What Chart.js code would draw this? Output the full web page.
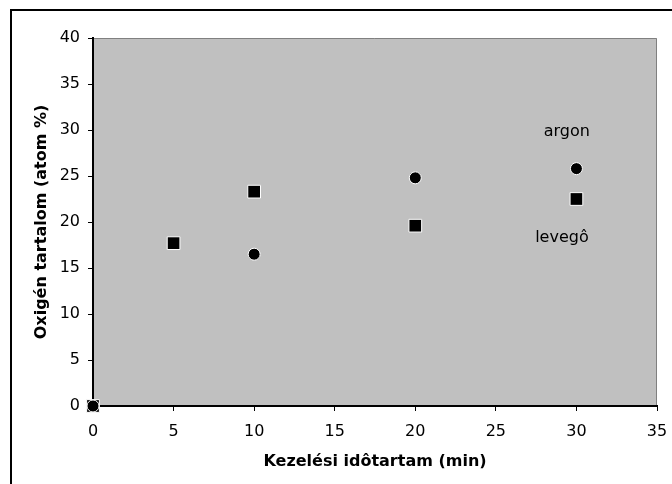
<!DOCTYPE html>
<html>
<head>
<meta charset="utf-8">
<script src="https://cdn.jsdelivr.net/npm/chart.js@4.4.0/dist/chart.umd.min.js"></script>
<style>
  body { margin: 0; background: #fff; }
  #wrap { width: 672px; height: 484px; }
</style>
</head>
<body>
<div id="wrap"><canvas id="chart" width="672" height="484"></canvas></div>
<script>
// Data
const argonX = [0, 10, 20, 30];
const argonY = [0, 16.5, 24.8, 25.8];
const levegoX = [0, 5, 10, 20, 30];
const levegoY = [0, 17.7, 23.3, 19.6, 22.5];

// In-plot text labels (data coordinates)
const noteText = ['argon', 'levegô'];
const noteX = [29.4, 29.1];
const noteY = [29.8, 18.3];

const xTitle = 'Kezelési idôtartam (min)';
const yTitle = 'Oxigén tartalom (atom %)';

const FONT = '"DejaVu Sans", Arial, sans-serif';

function toPoints(xs, ys) {
    return xs.map((x, i) => ({ x: x, y: ys[i] }));
}

// gray plot area + frame around the whole chart
const backgroundPlugin = {
    id: 'plotBackground',
    beforeDraw(chart) {
        const ctx = chart.ctx;
        const a = chart.chartArea;
        ctx.save();
        ctx.fillStyle = '#c0c0c0';
        ctx.fillRect(a.left, a.top, a.right - a.left, a.bottom - a.top);
        ctx.strokeStyle = '#808080';
        ctx.lineWidth = 1;
        ctx.beginPath();
        ctx.moveTo(a.left, a.top + 0.5);
        ctx.lineTo(a.right - 0.5, a.top + 0.5);
        ctx.lineTo(a.right - 0.5, a.bottom);
        ctx.stroke();
        // outer chart border (only top and left are visible in the crop)
        ctx.strokeStyle = '#000';
        ctx.lineWidth = 2;
        ctx.beginPath();
        ctx.moveTo(11, chart.height);
        ctx.lineTo(11, 10);
        ctx.lineTo(chart.width, 10);
        ctx.stroke();
        ctx.restore();
    }
};

// series names written inside the plot
const notesPlugin = {
    id: 'notes',
    afterDatasetsDraw(chart) {
        const ctx = chart.ctx;
        const xs = chart.scales.x;
        const ys = chart.scales.y;
        ctx.save();
        ctx.fillStyle = '#000';
        ctx.font = '16px ' + FONT;
        ctx.textAlign = 'center';
        ctx.textBaseline = 'middle';
        noteText.forEach((t, i) => {
            ctx.fillText(t, xs.getPixelForValue(noteX[i]), ys.getPixelForValue(noteY[i]));
        });
        ctx.restore();
    }
};

let context = document.getElementById('chart').getContext('2d');

let chart = new Chart(context, {
    type: 'scatter',
    data: {
        datasets: [{
            label: 'argon',
            data: toPoints(argonX, argonY),
            pointStyle: 'circle',
            pointRadius: 6,
            backgroundColor: '#000',
            borderColor: '#fff',
            borderWidth: 1
        }, {
            label: 'levegô',
            data: toPoints(levegoX, levegoY),
            pointStyle: 'rect',
            pointRadius: 9,
            backgroundColor: '#000',
            borderColor: '#fff',
            borderWidth: 1
        }]
    },
    options: {
        responsive: false,
        animation: false,
        clip: false,
        layout: {
            padding: { left: 20, top: 38, right: 15, bottom: 0 }
        },
        plugins: {
            legend: { display: false },
            tooltip: { enabled: false }
        },
        scales: {
            x: {
                type: 'linear',
                min: 0,
                max: 35,
                ticks: {
                    stepSize: 5,
                    color: '#000',
                    padding: 11,
                    font: { family: FONT, size: 16 }
                },
                grid: {
                    drawOnChartArea: false,
                    tickLength: 5,
                    tickColor: '#000'
                },
                border: { color: '#000', width: 2 },
                title: {
                    display: true,
                    text: xTitle,
                    color: '#000',
                    font: { family: FONT, size: 16, weight: 'bold' },
                    padding: { top: 0, bottom: 13 }
                },
                afterFit(scale) {
                    scale.height = 78;
                    scale.paddingLeft = 0;
                    scale.paddingRight = 0;
                }
            },
            y: {
                type: 'linear',
                min: 0,
                max: 40,
                ticks: {
                    stepSize: 5,
                    color: '#000',
                    padding: 8,
                    font: { family: FONT, size: 16 }
                },
                grid: {
                    drawOnChartArea: false,
                    tickLength: 5,
                    tickColor: '#000'
                },
                border: { color: '#000', width: 2 },
                title: {
                    display: true,
                    text: yTitle,
                    color: '#000',
                    font: { family: FONT, size: 16, weight: 'bold' },
                    padding: { top: 12, bottom: 0 }
                },
                afterFit(scale) {
                    scale.width = 73;
                    scale.paddingTop = 0;
                    scale.paddingBottom = 0;
                }
            }
        }
    },
    plugins: [backgroundPlugin, notesPlugin]
});
</script>
</body>
</html>
